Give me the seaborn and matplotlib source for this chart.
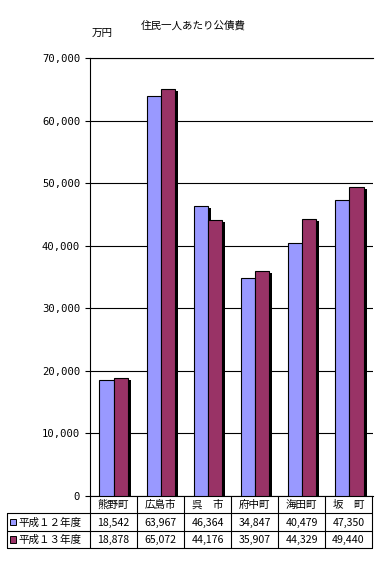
import numpy as np
import pandas as pd
import matplotlib
matplotlib.use("Agg")
import matplotlib.pyplot as plt
import seaborn as sns
from matplotlib import patheffects as pe
from matplotlib.lines import Line2D
from matplotlib.patches import Rectangle

# ---- data ----
categories = ["熊野町", "広島市", "呉　市", "府中町", "海田町", "坂　町"]
series_names = ["平成１２年度", "平成１３年度"]
values_h12 = [18542, 63967, 46364, 34847, 40479, 47350]
values_h13 = [18878, 65072, 44176, 35907, 44329, 49440]
y_ticks = [0, 10000, 20000, 30000, 40000, 50000, 60000, 70000]
colors = ["#9999FF", "#993366"]
title = "住民一人あたり公債費"
unit = "万円"

sns.set_theme(style="white")
plt.rcParams["font.family"] = ["Noto Sans CJK JP", "DejaVu Sans"]
plt.rcParams["text.color"] = "black"
plt.rcParams["ytick.color"] = "black"
plt.rcParams["xtick.color"] = "black"
plt.rcParams["ytick.labelcolor"] = "black"

W, H = 388, 563
fig = plt.figure(figsize=(W / 100, H / 100), dpi=100)
fig.patch.set_facecolor("white")

def fx(px):
    return px / W

def fy(py):
    return 1 - py / H

L, R, T, B = 90, 373, 58, 496
ax = fig.add_axes([fx(L), fy(B), fx(R) - fx(L), fy(T) - fy(B)])

df = pd.DataFrame({
    "cat": categories * 2,
    "val": values_h12 + values_h13,
    "series": [series_names[0]] * len(categories) + [series_names[1]] * len(categories),
})
sns.barplot(data=df, x="cat", y="val", hue="series", order=categories,
            hue_order=series_names, palette=colors, saturation=1,
            width=0.6, gap=0, edgecolor="black", linewidth=0.8,
            legend=False, errorbar=None, ax=ax)

for p in ax.patches:
    p.set_path_effects([pe.SimplePatchShadow(offset=(2.2, -1.4), shadow_rgbFace="black", alpha=1.0),
                        pe.Normal()])
    p.set_zorder(3)

ax.set_xlim(-0.5, len(categories) - 0.5)
ax.set_ylim(0, 70000)
ax.set_yticks(y_ticks)
ax.set_yticklabels([f"{v:,}" for v in y_ticks], family="DejaVu Sans Mono", fontsize=7.6, color="black")
ax.yaxis.grid(True, color="black", linewidth=0.8)
ax.set_axisbelow(True)
ax.tick_params(axis="y", direction="out", length=3.6, width=0.8, color="black", pad=3.5, left=True)
ax.tick_params(axis="x", length=0, labelbottom=False)
ax.set_xlabel("")
ax.set_ylabel("")
for s in ["left", "top", "bottom"]:
    ax.spines[s].set_visible(True)
    ax.spines[s].set_color("black")
    ax.spines[s].set_linewidth(0.8)
ax.spines["right"].set_visible(False)

# ---- data table ----
tab = fig.add_axes([0, 0, 1, 1], zorder=5)
tab.set_xlim(0, W)
tab.set_ylim(H, 0)
tab.axis("off")
tab.patch.set_alpha(0)

lw = 0.8
TL = 7
TR = 372
row_y = [B, 513, 531, 548]
n = len(categories)
col_x = [L + i * (TR - L) / n for i in range(n + 1)]

# horizontal lines
for yy in row_y[1:]:
    tab.add_line(Line2D([TL, TR], [yy, yy], color="black", lw=lw))
# vertical lines
for xx in col_x:
    tab.add_line(Line2D([xx, xx], [B, row_y[-1]], color="black", lw=lw))
tab.add_line(Line2D([TL, TL], [row_y[1], row_y[-1]], color="black", lw=lw))

fs = 7.6
for i, c in enumerate(categories):
    cx = (col_x[i] + col_x[i + 1]) / 2
    tab.text(cx, (row_y[0] + row_y[1]) / 2 + 0.5, c, ha="center", va="center", fontsize=fs, color="black")
    for r, vals in enumerate([values_h12, values_h13]):
        tab.text(cx, (row_y[r + 1] + row_y[r + 2]) / 2 + 0.5, f"{vals[i]:,}",
                 ha="center", va="center", fontsize=fs, color="black")

for r, name in enumerate(series_names):
    cy = (row_y[r + 1] + row_y[r + 2]) / 2
    tab.add_patch(Rectangle((9.5, cy - 3.5), 6.5, 6.5, facecolor=colors[r], edgecolor="black", lw=0.7))
    tab.text(18.5, cy + 0.5, name, ha="left", va="center", fontsize=fs, color="black")

# ---- titles ----
tab.text(193, 25, title, ha="center", va="center", fontsize=fs, color="black")
tab.text(92, 33, unit, ha="left", va="center", fontsize=fs, color="black")

fig.savefig("out.png", dpi=100)
